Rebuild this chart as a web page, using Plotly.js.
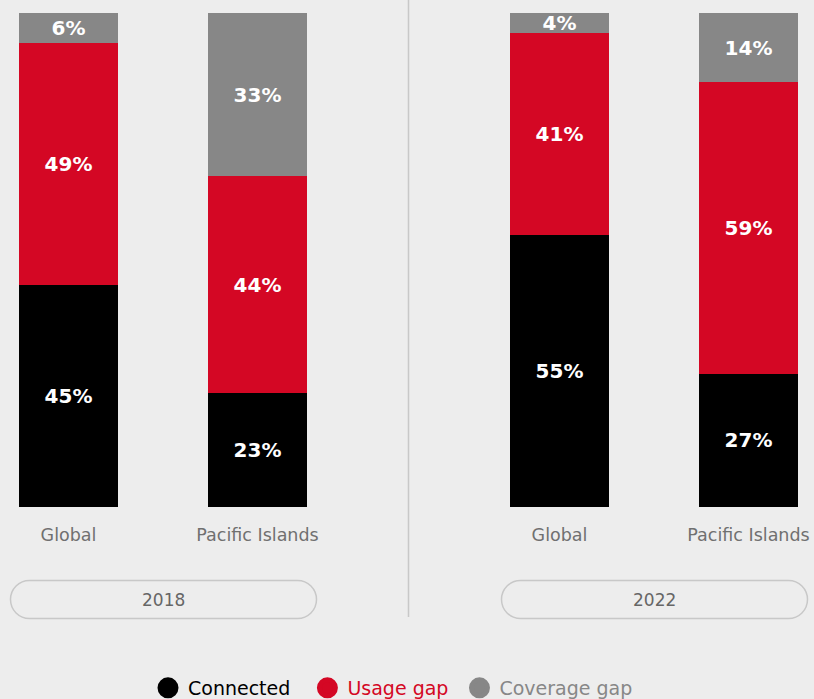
<!DOCTYPE html>
<html>
<head>
<meta charset="utf-8">
<script src="https://cdn.plot.ly/plotly-3.0.1.min.js"></script>
<style>html,body{margin:0;padding:0;background:#ededed;}#chart{width:814px;height:699px;}</style>
</head>
<body>
<div id="chart"></div>
<script>
const categories = ['Global', 'Pacific Islands'];
const years = ['2018', '2022'];
const seriesNames = ['Connected', 'Usage gap', 'Coverage gap'];
const connected2018 = [45, 23];
const usage2018 = [49, 44];
const coverage2018 = [6, 33];
const connected2022 = [55, 27];
const usage2022 = [41, 59];
const coverage2022 = [4, 14];

const colors = ['#000000', '#d40724', '#878787'];
const legendPad = ['\u00A0\u00A0', '\u00A0', ''];
const W = 814, H = 699, mT = 13, mB = 192, plotH = H - mT - mB;
const FONT = 'DejaVu Sans, sans-serif';

function barTrace(name, y, color, xa) {
  return {
    type: 'bar', x: categories, y: y, name: name, xaxis: xa, yaxis: 'y',
    marker: {color: color, line: {width: 0}},
    width: 0.524,
    texttemplate: '%{y}%', textposition: 'inside', insidetextanchor: 'middle',
    textangle: 0, constraintext: 'none',
    textfont: {family: FONT, size: 20, color: '#ffffff', weight: 700},
    showlegend: false, hoverinfo: 'skip', legendgroup: name
  };
}

const data = [
  barTrace(seriesNames[0], connected2018, colors[0], 'x'),
  barTrace(seriesNames[1], usage2018, colors[1], 'x'),
  barTrace(seriesNames[2], coverage2018, colors[2], 'x'),
  barTrace(seriesNames[0], connected2022, colors[0], 'x2'),
  barTrace(seriesNames[1], usage2022, colors[1], 'x2'),
  barTrace(seriesNames[2], coverage2022, colors[2], 'x2')
];
// legend entries (circle markers)
seriesNames.forEach((n, i) => {
  data.push({
    type: 'scatter', mode: 'markers', x: [null], y: [null], xaxis: 'x', yaxis: 'y',
    name: '<span style="color:' + colors[i] + '">' + n + '</span>' + legendPad[i],
    marker: {color: colors[i], size: 16, symbol: 'circle', line: {color: colors[i], width: 5}},
    showlegend: true, hoverinfo: 'skip'
  });
});

function px2x(p) { return p / W; }
function px2y(p) { return (H - mB - p) / plotH; }
function pill(x0, y0, x1, y1) {
  const r = (y1 - y0) / 2, k = 0.5523 * r;
  const P = (x, y) => px2x(x).toFixed(5) + ',' + px2y(y).toFixed(5);
  return 'M' + P(x0 + r, y0) + ' L' + P(x1 - r, y0) +
    ' C' + P(x1 - r + k, y0) + ' ' + P(x1, y0 + r - k) + ' ' + P(x1, y0 + r) +
    ' C' + P(x1, y0 + r + k) + ' ' + P(x1 - r + k, y1) + ' ' + P(x1 - r, y1) +
    ' L' + P(x0 + r, y1) +
    ' C' + P(x0 + r - k, y1) + ' ' + P(x0, y0 + r + k) + ' ' + P(x0, y0 + r) +
    ' C' + P(x0, y0 + r - k) + ' ' + P(x0 + r - k, y0) + ' ' + P(x0 + r, y0) + ' Z';
}

const axisCommon = {
  type: 'category', showgrid: false, zeroline: false, showline: false, ticks: '',
  tickfont: {family: FONT, size: 17.5, color: '#707070'}, ticklabelstandoff: 15,
  fixedrange: true
};

const layout = {
  width: W, height: H,
  margin: {l: 0, r: 0, t: mT, b: mB, pad: 0, autoexpand: false},
  paper_bgcolor: '#ededed', plot_bgcolor: '#ededed',
  barmode: 'stack', bargap: 0,
  showlegend: true,
  legend: {
    orientation: 'h', x: px2x(148), xanchor: 'left', y: px2y(688), yanchor: 'middle',
    font: {family: FONT, size: 19, color: '#000'}, itemwidth: 30,
    traceorder: 'normal', bgcolor: 'rgba(0,0,0,0)'
  },
  xaxis: Object.assign({}, axisCommon, {domain: [0, 0.5], range: [-68.5 / 189, (407 - 68.5) / 189], anchor: 'y'}),
  xaxis2: Object.assign({}, axisCommon, {domain: [0.5, 1], range: [-152.5 / 189, (407 - 152.5) / 189], anchor: 'y'}),
  yaxis: {range: [0, 100], showgrid: false, zeroline: false, showticklabels: false, showline: false, fixedrange: true},
  shapes: [
    {type: 'line', xref: 'paper', yref: 'paper', x0: px2x(408.5), x1: px2x(408.5), y0: px2y(0), y1: px2y(617),
     line: {color: '#c8c8c8', width: 1.5}, layer: 'below'},
    {type: 'path', xref: 'paper', yref: 'paper', path: pill(10.5, 580.5, 316.5, 618.5),
     line: {color: '#c8c8c8', width: 1.5}, fillcolor: 'rgba(0,0,0,0)'},
    {type: 'path', xref: 'paper', yref: 'paper', path: pill(501.5, 580.5, 807.5, 618.5),
     line: {color: '#c8c8c8', width: 1.5}, fillcolor: 'rgba(0,0,0,0)'}
  ],
  annotations: [
    {xref: 'paper', yref: 'paper', x: px2x(163.5), y: px2y(600), text: years[0], showarrow: false,
     font: {family: FONT, size: 17, color: '#666666'}, xanchor: 'center', yanchor: 'middle'},
    {xref: 'paper', yref: 'paper', x: px2x(654.5), y: px2y(600), text: years[1], showarrow: false,
     font: {family: FONT, size: 17, color: '#666666'}, xanchor: 'center', yanchor: 'middle'}
  ]
};

Plotly.newPlot('chart', data, layout, {displayModeBar: false, staticPlot: true});
</script>
</body>
</html>
